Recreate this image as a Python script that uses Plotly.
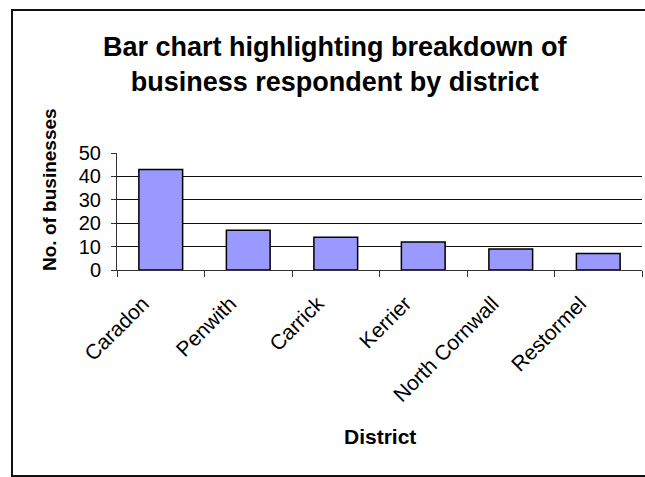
import plotly.graph_objects as go

districts = ["Caradon", "Penwith", "Carrick", "Kerrier", "North Cornwall", "Restormel"]
businesses = [43, 17, 14, 12, 9, 7]
y_ticks = [0, 10, 20, 30, 40, 50]

W, H = 645, 477
L, R, T, B = 117, 642, 153, 270  # plot area in pixels

fig = go.Figure(
    go.Bar(
        x=districts,
        y=businesses,
        width=0.5,
        marker=dict(color="#9999FF", line=dict(color="#000000", width=1.5)),
    )
)

def px_x(x):
    return (x - L) / (R - L)

def px_y(y):
    return (B - y) / (B - T)

fig.update_layout(
    width=W,
    height=H,
    margin=dict(l=L, r=W - R, t=T, b=H - B),
    paper_bgcolor="white",
    plot_bgcolor="white",
    showlegend=False,
    font=dict(family="Liberation Sans, Arial, sans-serif", color="#000000"),
    xaxis=dict(
        tickangle=-45,
        tickfont=dict(size=21),
        ticks="outside",
        tickson="boundaries",
        ticklen=6,
        tickcolor="#333333",
        ticklabelshift=-18,
        ticklabelstandoff=12,
        showline=True,
        linecolor="#333333",
        linewidth=1,
        showgrid=False,
        range=[-0.5, 5.5],
    ),
    yaxis=dict(
        range=[0, 50],
        tickvals=y_ticks,
        tickfont=dict(size=20),
        ticks="outside",
        ticklen=5,
        tickcolor="#333333",
        ticklabelstandoff=6,
        showline=True,
        linecolor="#333333",
        linewidth=1,
        showgrid=True,
        gridcolor="#111111",
        gridwidth=1,
        zeroline=False,
    ),
    shapes=[
        dict(
            type="rect", xref="paper", yref="paper",
            x0=px_x(12), x1=px_x(650), y0=px_y(476), y1=px_y(10),
            line=dict(color="#111111", width=2), fillcolor="rgba(0,0,0,0)",
            layer="below",
        ),
    ],
    annotations=[
        dict(
            text="<b>Bar chart highlighting breakdown of<br>business respondent by district</b>",
            xref="paper", yref="paper", x=px_x(335), y=px_y(64),
            xanchor="center", yanchor="middle", showarrow=False,
            font=dict(size=27),
            align="center",
        ),
        dict(
            text="<b>No. of businesses</b>",
            xref="paper", yref="paper", x=px_x(49), y=px_y(190),
            xanchor="center", yanchor="middle", showarrow=False, textangle=-90,
            font=dict(size=19),
        ),
        dict(
            text="<b>District</b>",
            xref="paper", yref="paper", x=px_x(380), y=px_y(436),
            xanchor="center", yanchor="middle", showarrow=False,
            font=dict(size=21),
        ),
    ],
)

fig.write_html("out.html")
